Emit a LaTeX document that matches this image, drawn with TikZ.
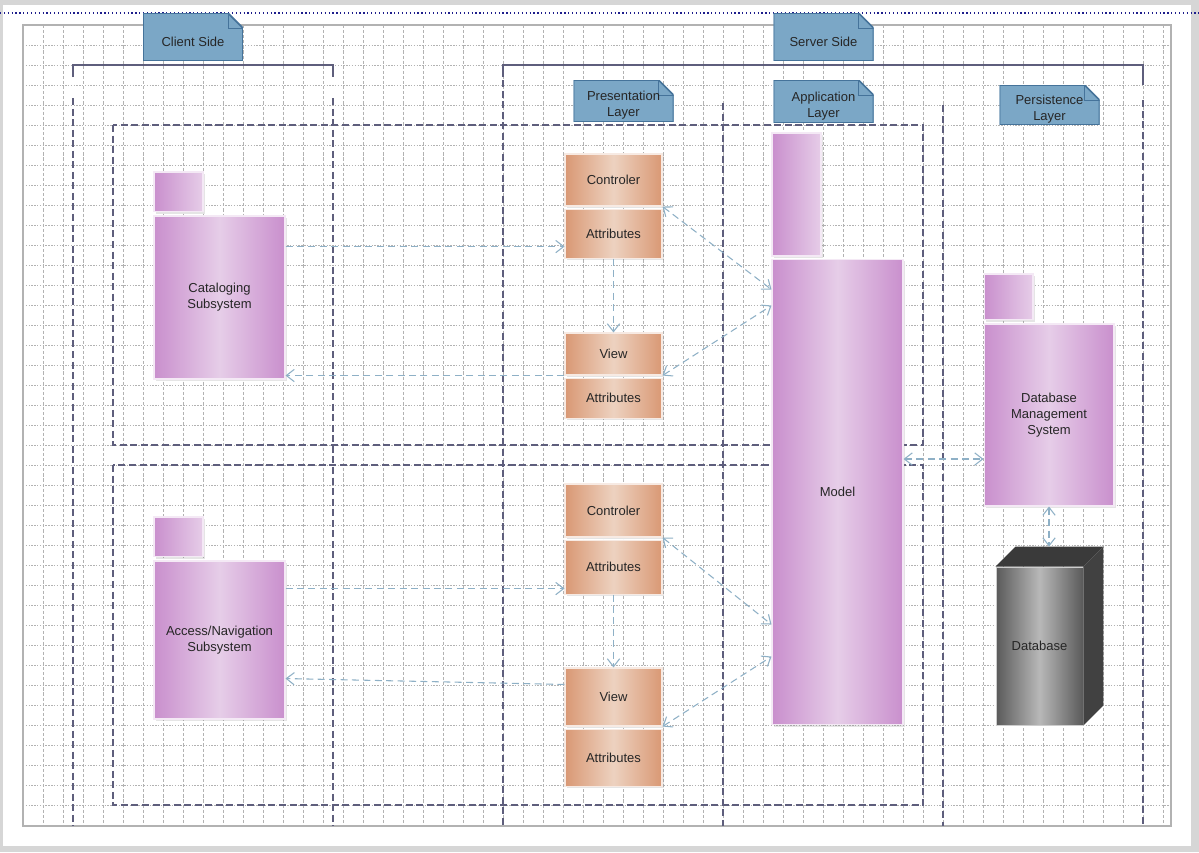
\documentclass[tikz,border=0pt]{standalone}
\usepackage{fontspec}
\setmainfont{Liberation Sans}
\usepackage{tikz}
\usetikzlibrary{arrows.meta, positioning, calc, shadows}
\usepackage{xcolor}
\definecolor{pagegray}{HTML}{D6D6D6}
\definecolor{gridgray}{HTML}{B2B2B2}
\definecolor{lanecol}{HTML}{5E5E7C}
\definecolor{notefill}{HTML}{7BA7C6}
\definecolor{notedraw}{HTML}{45739A}
\definecolor{pkgdark}{HTML}{C98FCD}
\definecolor{pkglight}{HTML}{E6CDE8}
\definecolor{clsdark}{HTML}{D99874}
\definecolor{clslight}{HTML}{EDD2C0}
\definecolor{dbdark}{HTML}{5A5A5A}
\definecolor{dblight}{HTML}{B8B8B8}
\definecolor{dbside}{HTML}{414141}
\definecolor{linkcol}{HTML}{8EB0C6}
\definecolor{topline}{HTML}{1E1E8C}
\tikzset{
    every node/.style={font=\fontsize{7.4}{9}\selectfont, text=black!85},
    layernote/.style={rectangle, minimum width=2cm, inner sep=1pt,
        path picture={
            \fill[notefill, draw=notedraw, line width=1pt] (path picture bounding box.south west) -- (path picture bounding box.north west) -- ([xshift=-0.3cm]path picture bounding box.north east) -- ([yshift=-0.3cm]path picture bounding box.north east) -- (path picture bounding box.south east) -- cycle;
            \draw[notedraw, line width=0.5pt] ([xshift=-0.3cm]path picture bounding box.north east) |- ([yshift=-0.3cm]path picture bounding box.north east);
        }},
    notetext/.style={align=center, yshift=-0.09cm},
    pkgbody/.style={rectangle, draw=white!80!pkgdark, line width=0.6pt, left color=pkgdark, right color=pkgdark, middle color=pkglight, minimum width=2.62cm, align=center, inner sep=0pt, drop shadow={shadow xshift=1pt, shadow yshift=-1pt, opacity=0.2}},
    pkgtab/.style={pkgbody, minimum width=0.98cm, left color=pkgdark, right color=pkglight},
    classbox/.style={rectangle, draw=white!80!clsdark, line width=0.6pt, left color=clsdark, right color=clsdark, middle color=clslight, minimum width=1.94cm, inner sep=0pt, drop shadow={shadow xshift=1pt, shadow yshift=-1pt, opacity=0.2}},
    lane/.style={draw=lanecol, line width=0.6pt, dash pattern=on 4pt off 2pt},
    bracket/.style={draw=lanecol, line width=0.6pt},
    gridv/.style={draw=gridgray, line width=0.45pt, dash pattern=on 1.8pt off 1.1pt},
    gridh/.style={draw=gridgray, line width=0.45pt, dash pattern=on 0.8pt off 0.8pt},
    link/.style={draw=linkcol, line width=0.6pt, dash pattern=on 4pt off 2.5pt}
}

\begin{document}
\begin{tikzpicture}[x=0.02cm, y=-0.02cm, >={Straight Barb[length=4.5pt,width=7pt]}]
    \useasboundingbox (0,0) rectangle (1199,852);
    % page and grid
    \fill[pagegray] (0,0) rectangle (1199,852);
    \fill[white] (3,5) rectangle (1191,846);
    \foreach \gx in {43,63,...,1163}
        \draw[gridv] (\gx,25) -- (\gx,826);
    \foreach \gy in {45,65,...,805}
        \draw[gridh] (23,\gy) -- (1171,\gy);
    \draw[gridgray, line width=0.8pt] (23,25) rectangle (1171,826);
    \draw[topline, line width=0.7pt, dash pattern=on 0.7pt off 1.5pt] (0,13) -- (1199,13);

    % swimlanes
    \draw[bracket] (73,77) -- (73,65) -- (333,65) -- (333,77);
    \draw[bracket] (503,77) -- (503,65) -- (1143,65) -- (1143,85);
    \draw[lane] (73,98) -- (73,826);
    \draw[lane] (333,98) -- (333,826);
    \draw[lane] (503,80) -- (503,826);
    \draw[lane] (723,103) -- (723,826);
    \draw[lane] (943,105) -- (943,826);
    \draw[lane] (1143,100) -- (1143,826);
    \draw[lane] (113,125) rectangle (923,445);
    \draw[lane] (113,465) rectangle (923,805);

    % notes
    \node[layernote, minimum height=0.96cm, label={[notetext]center:Client Side}] (clientnote) at (193,37) {};
    \node[layernote, minimum height=0.96cm, label={[notetext]center:Server Side}] (servernote) at (823.5,37) {};
    \node[layernote, minimum height=0.84cm, label={[notetext]center:Presentation\\Layer}] (presnote) at (623.5,101) {};
    \node[layernote, minimum height=0.86cm, label={[notetext]center:Application\\Layer}] (appnote) at (823.5,101.5) {};
    \node[layernote, minimum height=0.8cm, label={[notetext]center:Persistence\\Layer}] (persnote) at (1049.5,105) {};

    % client packages
    \node[pkgbody, minimum height=3.26cm] (cat) at (219.5,297.5) {Cataloging\\Subsystem};
    \node[pkgtab, minimum height=0.8cm, above right=0.06cm and 0cm of cat.north west] (cattab) {};
    \node[pkgbody, minimum height=3.16cm] (acc) at (219.5,640) {Access/Navigation\\Subsystem};
    \node[pkgtab, minimum height=0.8cm, above right=0.06cm and 0cm of acc.north west] (acctab) {};

    % presentation classes
    \node[classbox, minimum height=1.04cm] (ctl1) at (613.5,180) {Controler};
    \node[classbox, minimum height=0.98cm, below=0.04cm of ctl1] (att1) {Attributes};
    \node[classbox, minimum height=0.84cm] (view1) at (613.5,354) {View};
    \node[classbox, minimum height=0.8cm, below=0.04cm of view1] (att2) {Attributes};
    \node[classbox, minimum height=1.06cm] (ctl2) at (613.5,510.5) {Controler};
    \node[classbox, minimum height=1.08cm, below=0.04cm of ctl2] (att3) {Attributes};
    \node[classbox, minimum height=1.16cm] (view2) at (613.5,697) {View};
    \node[classbox, minimum height=1.14cm, below=0.04cm of view2] (att4) {Attributes};

    % application and persistence
    \node[pkgbody, minimum height=9.32cm] (model) at (837.5,492) {Model};
    \node[pkgtab, minimum height=2.46cm, above right=0.04cm and 0cm of model.north west] (modeltab) {};
    \node[pkgbody, minimum width=2.6cm, minimum height=3.64cm] (dbms) at (1049,415) {Database\\Management\\System};
    \node[pkgtab, minimum height=0.92cm, above right=0.06cm and 0cm of dbms.north west] (dbmstab) {};

    % database box
    \node[rectangle, minimum width=1.74cm, minimum height=3.16cm, left color=dbdark, right color=dbdark, middle color=dblight, draw=white!70!dbdark, line width=0.5pt] (db) at (1039.5,646) {Database};
    \coordinate (dbback) at ($(db.north west)+(20,-20)$);
    \fill[dbside!90!black] (db.north west) -- (dbback) -- ($(db.north east)+(20,-20)$) -- (db.north east) -- cycle;
    \fill[dbside] (db.north east) -- ($(db.north east)+(20,-20)$) -- ($(db.south east)+(20,-20)$) -- (db.south east) -- cycle;

    % connectors
    \coordinate (catin) at ($(att1.south west)+(0,-12)$);
    \coordinate (accin) at ($(att3.south west)+(0,-6)$);
    \coordinate (dbmsin) at ($(dbms.west)+(0,44)$);
    \draw[link,->] (cat.east |- catin) -- (catin);
    \draw[link,->] (view1.south west) -- (cat.east |- view1.south west);
    \draw[link,->] (att1.south) -- (view1.north);
    \draw[link,<->] (ctl1.south east) -- ($(model.north west)+(0,31)$);
    \draw[link,<->] (view1.south east) -- ($(model.north west)+(0,47)$);
    \draw[link,->] (acc.east |- accin) -- (accin);
    \draw[link,->] ($(view2.north west)+(0,17)$) -- ($(acc.south east)+(0,-41)$);
    \draw[link,->] (att3.south) -- (view2.north);
    \draw[link,<->] (ctl2.south east) -- ($(model.north west)+(0,366)$);
    \draw[link,<->] (view2.south east) -- ($(model.north west)+(0,398)$);
    \draw[link,<->] (model.east |- dbmsin) -- (dbmsin);
    \draw[link,<->] (dbms.south) -- (dbms.south |- dbback);
\end{tikzpicture}
\end{document}
